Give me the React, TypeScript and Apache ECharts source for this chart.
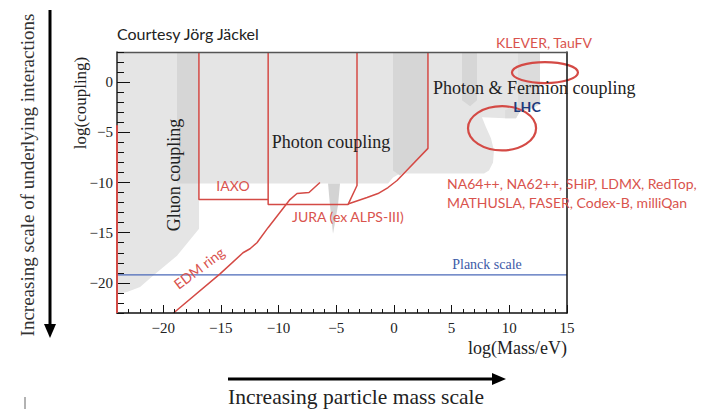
import React, { useEffect, useRef } from "react";
import * as echarts from "echarts";

// Axis ranges: log10(Mass/eV) and log10(coupling)
const X_MIN = -24;
const X_MAX = 15;
const Y_MIN = -23;
const Y_MAX = 3;
const xMajorTicks = [-20, -15, -10, -5, 0, 5, 10, 15];
const yMajorTicks = [-20, -15, -10, -5, 0];

// Shaded excluded parameter space, [log(Mass/eV), log(coupling)]
const excludedRegion = [
  [-24, 3], [12.66, 3], [12.66, -2.2], [11.97, -2.6], [10.93, -2.9], [10.58, -3.6],
  [9.63, -3.6], [7.63, -3.5], [7.98, -4.5], [8.41, -5.6], [8.67, -6.8], [8.59, -8.0],
  [8.24, -8.8], [7.81, -9.1], [0.53, -9.1], [-0.08, -9.5], [-0.51, -10.1],
  [-16.89, -10.1], [-16.89, -14.6], [-18.8, -17.3], [-20.88, -19.3], [-22.0, -20.4],
  [-23.13, -20.9], [-24, -21.1],
];
const gluonBand = [[-18.8, 3], [-16.89, 3], [-16.89, -10.1], [-18.8, -10.1]];
const photonBand = [[-0.08, 3], [2.95, 3], [2.95, -6.6], [0.53, -9.3], [-0.08, -8.8]];
const fermionBand = [[5.9, 3], [7.2, 3], [7.2, -1.8], [6.6, -2.4], [5.9, -1.8]];
const lhcBand = [
  [10.75, 3], [12.66, 3], [12.66, -2.2], [11.97, -2.6], [10.93, -2.9], [10.58, -3.6],
  [9.63, -3.6], [9.63, -2.8], [10.75, -2.2],
];
const sliver = [[-5.71, -10.1], [-4.67, -10.1], [-4.85, -12.3], [-5.28, -15.1], [-5.54, -12.3]];

// Experimental reach curves
const iaxoReach = [[-16.9, 3], [-16.9, -11.7], [-10.9, -11.7]];
const juraReach = [[-10.9, 3], [-10.9, -12.2], [-3.98, -12.2], [-3.2, -10.3], [-3.2, 3]];
const juraOuterReach = [
  [-3.98, -12.15], [-2.33, -11.5], [-1.38, -11.1], [-0.51, -10.5], [0.27, -9.8],
  [2.95, -6.6], [2.95, 3],
];
const edmRing = [
  [-19.1, -23], [-15.07, -19.1], [-13.08, -17.0], [-12.47, -16.6], [-11.87, -16.0],
  [-10.91, -14.5], [-9.01, -11.7], [-8.4, -11.1], [-7.36, -11.0], [-6.41, -10.0],
];
const leftBound = [[-24, -4.3], [-24, -23]];
const planckCoupling = -19.2;

// Ellipses: [centre x, centre y, radius x, radius y]
const kleverEllipse = [13.09, 0.95, 2.86, 1.05];
const lhcEllipse = [9.37, -4.6, 2.95, 2.2];

const RED = "#d44a45";
const RED_TEXT = "#d9534d";
const SERIF = '"Liberation Serif", "DejaVu Serif", serif';
const SANS = 'Lato, "Open Sans", sans-serif';

const minus = (v: number) => (v < 0 ? "\u2212" + Math.abs(v) : String(v));

function polygonSeries(points: number[][], color: string, z: number) {
  return {
    type: "custom",
    coordinateSystem: "cartesian2d",
    xAxisIndex: 0,
    yAxisIndex: 0,
    silent: true,
    clip: true,
    z,
    data: [points[0]],
    renderItem: (_p: any, api: any) => ({
      type: "polygon",
      shape: { points: points.map((pt) => api.coord(pt)) },
      style: { fill: color },
    }),
  };
}

function lineSeries(points: number[][], color: string, width: number, z: number) {
  return {
    type: "line",
    xAxisIndex: 0,
    yAxisIndex: 0,
    data: points,
    symbol: "none",
    silent: true,
    clip: true,
    z,
    lineStyle: { color, width },
  };
}

function ellipseSeries(e: number[], z: number) {
  return {
    type: "custom",
    coordinateSystem: "cartesian2d",
    xAxisIndex: 0,
    yAxisIndex: 0,
    silent: true,
    clip: false,
    z,
    data: [[e[0], e[1]]],
    renderItem: (_p: any, api: any) => {
      const c = api.coord([e[0], e[1]]);
      const s = api.size([e[2], e[3]]);
      return {
        type: "ellipse",
        shape: { cx: c[0], cy: c[1], rx: s[0], ry: s[1] },
        style: { fill: "none", stroke: RED, lineWidth: 2.2 },
      };
    },
  };
}

function text(t: string, x: number, y: number, font: string, fill: string, extra: any = {}) {
  return {
    type: "text",
    x,
    y,
    z: 100,
    silent: true,
    rotation: extra.rotation || 0,
    style: {
      text: t,
      font,
      fill,
      textAlign: extra.align || "left",
      textVerticalAlign: "middle",
    },
  };
}

const baseAxis = {
  type: "value",
  z: 10,
  splitLine: { show: false },
};

export default function App() {
  const ref = useRef<HTMLDivElement>(null);

  useEffect(() => {
    if (!ref.current) return;
    const chart = echarts.init(ref.current, null, { renderer: "svg" });
    const tickStyle = { color: "#111", width: 1 };

    chart.setOption({
      animation: false,
      backgroundColor: "#ffffff",
      grid: { left: 117, top: 52, width: 450, height: 261, show: false },
      xAxis: [
        {
          ...baseAxis, min: X_MIN, max: X_MAX, interval: 1, position: "bottom",
          axisLine: { show: true, onZero: false, lineStyle: { color: "#111", width: 1.5 } },
          axisTick: { show: true, inside: true, length: 4, lineStyle: tickStyle },
          axisLabel: { show: false },
        },
        {
          ...baseAxis, min: X_MIN, max: X_MAX, position: "bottom",
          axisLine: { show: false, onZero: false },
          axisTick: { show: true, inside: true, length: 8, customValues: xMajorTicks, lineStyle: tickStyle },
          axisLabel: {
            show: true, customValues: xMajorTicks, formatter: minus, margin: 7,
            fontFamily: SERIF, fontSize: 15, color: "#222",
          },
        },
        {
          ...baseAxis, min: X_MIN, max: X_MAX, position: "top",
          axisLine: { show: true, onZero: false, lineStyle: { color: "#555", width: 1.3 } },
          axisTick: { show: false }, axisLabel: { show: false },
        },
      ],
      yAxis: [
        {
          ...baseAxis, min: Y_MIN, max: Y_MAX, interval: 1, position: "left",
          axisLine: { show: true, onZero: false, lineStyle: { color: "#222", width: 1.5 } },
          axisTick: { show: true, inside: true, length: 7, lineStyle: tickStyle },
          axisLabel: { show: false },
        },
        {
          ...baseAxis, min: Y_MIN, max: Y_MAX, position: "left",
          axisLine: { show: false, onZero: false },
          axisTick: { show: true, inside: true, length: 13, customValues: yMajorTicks, lineStyle: tickStyle },
          axisLabel: {
            show: true, customValues: yMajorTicks, formatter: minus, margin: 4,
            fontFamily: SERIF, fontSize: 15, color: "#222",
          },
        },
        {
          ...baseAxis, min: Y_MIN, max: Y_MAX, position: "right",
          axisLine: { show: true, onZero: false, lineStyle: { color: "#111", width: 1.5 } },
          axisTick: { show: false }, axisLabel: { show: false },
        },
      ],
      series: [
        polygonSeries(excludedRegion, "#e5e5e5", 1),
        polygonSeries(gluonBand, "#d6d6d6", 2),
        polygonSeries(photonBand, "#d6d6d6", 2),
        polygonSeries(fermionBand, "#d6d6d6", 2),
        polygonSeries(lhcBand, "#dcdcdc", 2),
        polygonSeries(sliver, "#d3d3d3", 2),
        lineSeries([[X_MIN, planckCoupling], [X_MAX, planckCoupling]], "#4a68b8", 1.3, 4),
        lineSeries(iaxoReach, RED, 1.5, 5),
        lineSeries(juraReach, RED, 1.5, 5),
        lineSeries(juraOuterReach, RED, 1.5, 5),
        lineSeries(edmRing, RED, 1.5, 5),
        lineSeries(leftBound, RED, 2, 12),
        ellipseSeries(kleverEllipse, 6),
        ellipseSeries(lhcEllipse, 6),
      ],
      graphic: [
        text("Courtesy Jörg Jäckel", 117, 33, `16px ${SANS}`, "#222"),
        text("Increasing scale of underlying interactions", 27, 175, `19px ${SERIF}`, "#333", { rotation: Math.PI / 2, align: "center" }),
        { type: "line", z: 100, silent: true, shape: { x1: 50, y1: 10, x2: 50, y2: 326 }, style: { stroke: "#000", lineWidth: 3 } },
        { type: "polygon", z: 100, silent: true, shape: { points: [[44, 324], [56, 324], [50, 338]] }, style: { fill: "#000" } },
        text("log(coupling)", 80, 103, `17px ${SERIF}`, "#222", { rotation: Math.PI / 2, align: "center" }),
        text("log(Mass/eV)", 567, 348, `18px ${SERIF}`, "#222", { align: "right" }),
        { type: "line", z: 100, silent: true, shape: { x1: 228, y1: 379, x2: 494, y2: 379 }, style: { stroke: "#000", lineWidth: 3 } },
        { type: "polygon", z: 100, silent: true, shape: { points: [[492, 373], [492, 385], [506, 379]] }, style: { fill: "#000" } },
        text("Increasing particle mass scale", 228, 397, `21.5px ${SERIF}`, "#222"),
        { type: "line", z: 100, silent: true, shape: { x1: 25, y1: 397, x2: 25, y2: 409 }, style: { stroke: "#666", lineWidth: 1 } },
        text("Gluon coupling", 174, 175, `18px ${SERIF}`, "#222", { rotation: Math.PI / 2, align: "center" }),
        text("Photon coupling", 331, 142, `18px ${SERIF}`, "#222", { align: "center" }),
        text("Photon & Fermion coupling", 433, 88, `18px ${SERIF}`, "#222"),
        text("LHC", 527, 106, `bold 14px ${SANS}`, "#1c3a7c", { align: "center" }),
        text("KLEVER, TauFV", 544, 42, `14px ${SANS}`, RED_TEXT, { align: "center" }),
        text("NA64++, NA62++, SHiP, LDMX, RedTop,", 447, 183, `14px ${SANS}`, RED_TEXT),
        text("MATHUSLA, FASER, Codex-B, milliQan", 447, 202, `14px ${SANS}`, RED_TEXT),
        text("IAXO", 233, 185, `14px ${SANS}`, RED_TEXT, { align: "center" }),
        text("JURA (ex ALPS-III)", 292, 216, `14px ${SANS}`, RED_TEXT),
        text("EDM ring", 199, 268, `14px ${SANS}`, RED_TEXT, { rotation: (37 * Math.PI) / 180, align: "center" }),
        text("Planck scale", 487, 264, `14px ${SERIF}`, "#3d5aa8", { align: "center" }),
      ],
    });

    return () => chart.dispose();
  }, []);

  return (
    <div
      ref={ref}
      style={{ position: "fixed", left: 0, top: 0, width: 708, height: 409, background: "#fff" }}
    />
  );
}
